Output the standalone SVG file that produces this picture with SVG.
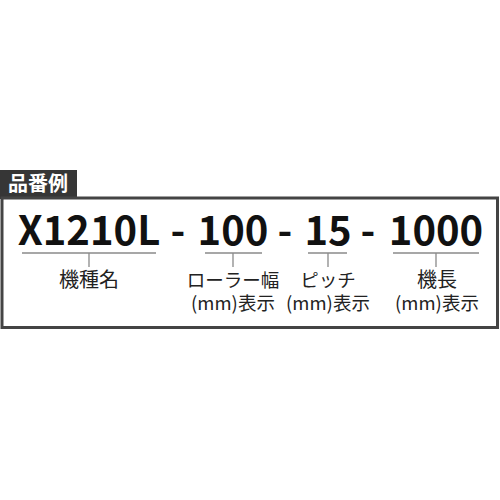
<svg xmlns="http://www.w3.org/2000/svg" width="500" height="500" viewBox="0 0 500 500">
<style>
.code{font-family:"Noto Sans CJK JP","Noto Sans",sans-serif;font-weight:bold;font-size:40px;fill:#111;text-anchor:middle}
.lbl{font-family:"Noto Sans CJK JP","Noto Sans",sans-serif;font-size:18.5px;fill:#222;text-anchor:middle}
.big{font-size:20px}
.ul{stroke:#8a8a8a;stroke-width:1.3;fill:none}
</style>
<rect width="500" height="500" fill="#fff"/>
<g id="frame">
<rect x="0" y="170" width="77" height="29" fill="#363636"/>
<rect x="2" y="198" width="495.5" height="129.5" fill="none" stroke="#444" stroke-width="3"/>
<text x="38" y="191" style="font-family:'Noto Sans CJK JP','Noto Sans',sans-serif;font-weight:bold;font-size:20px;fill:#fff;text-anchor:middle">品番例</text>
</g>
<g id="code">
<text class="code" x="89" y="245">X1210L</text>
<text class="code" x="178" y="245">-</text>
<text class="code" x="233" y="245">100</text>
<text class="code" x="285" y="245">-</text>
<text class="code" x="328" y="245">15</text>
<text class="code" x="368" y="245">-</text>
<text class="code" x="436" y="245">1000</text>
</g>
<g id="connectors">
<path class="ul" d="M22 253H156M89 253V267"/>
<path class="ul" d="M205 253H262M233 253V267"/>
<path class="ul" d="M308 253H347M328 253V267"/>
<path class="ul" d="M393 253H479M436 253V267"/>
</g>
<g id="node-model"><text class="lbl big" x="89" y="287">機種名</text></g>
<g id="node-width"><text class="lbl" x="233" y="287">ローラー幅</text><text class="lbl" x="233" y="310">(mm)表示</text></g>
<g id="node-pitch"><text class="lbl" x="328" y="287">ピッチ</text><text class="lbl" x="328" y="310">(mm)表示</text></g>
<g id="node-length"><text class="lbl big" x="437" y="287">機長</text><text class="lbl" x="437" y="310">(mm)表示</text></g>
</svg>
